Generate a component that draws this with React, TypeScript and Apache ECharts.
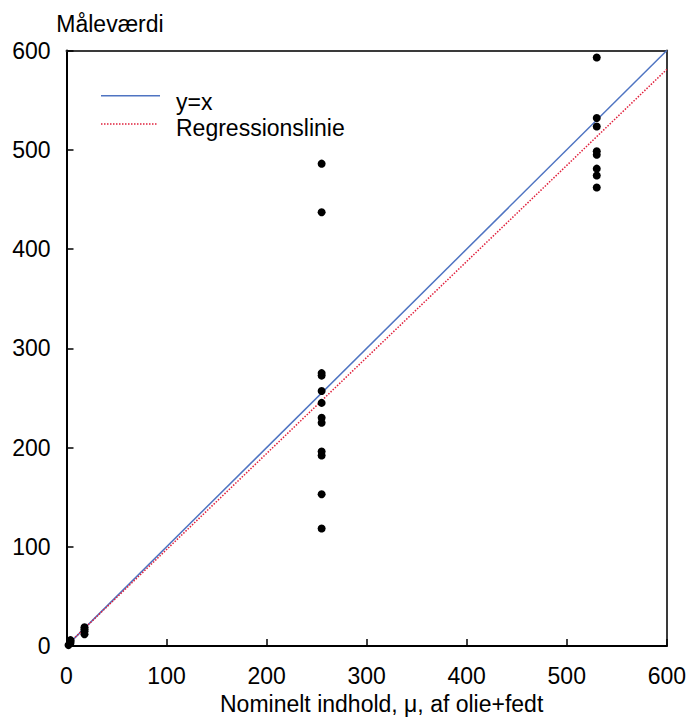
import React, { useEffect, useRef } from "react";
import * as echarts from "echarts";

// Data
const nominalLevels = [2, 4, 18, 255, 530];
const measuredAt2 = [1];
const measuredAt4 = [3, 5, 6];
const measuredAt18 = [19, 17, 15, 12];
const measuredAt255 = [486, 437, 275, 272.5, 257, 245, 230, 225, 196, 192, 153, 118.5];
const measuredAt530 = [593, 532, 523.5, 498.5, 495, 481, 474, 462];
const measuredGroups = [measuredAt2, measuredAt4, measuredAt18, measuredAt255, measuredAt530];

const identityLine = [
  [0, 0],
  [600, 600],
];
const regressionLine = [
  [0, 0.5],
  [600, 581],
];

const axisMin = 0;
const axisMax = 600;
const axisInterval = 100;

const xAxisTitle = "Nominelt indhold, μ, af olie+fedt";
const yAxisTitle = "Måleværdi";
const legendLabels = ["y=x", "Regressionslinie"];

const FONT = "'Liberation Sans', Arial, sans-serif";
const FS = 23;
const BLUE = "#4f74c2";
const RED = "#e0203c";

export default function App() {
  const ref = useRef<HTMLDivElement>(null);

  useEffect(() => {
    if (!ref.current) return;
    const chart = echarts.init(ref.current, null, { renderer: "svg" });

    const points: number[][] = [];
    nominalLevels.forEach((x, i) => {
      measuredGroups[i].forEach((y) => points.push([x, y]));
    });

    const frameAxis = {
      type: "value" as const,
      min: axisMin,
      max: axisMax,
      interval: axisInterval,
      axisLine: { show: true, onZero: false, lineStyle: { color: "#3a3a3a", width: 2 } },
      axisTick: { show: false },
      axisLabel: { show: false },
      splitLine: { show: false },
    };

    chart.setOption({
      animation: false,
      backgroundColor: "#ffffff",
      textStyle: { fontFamily: FONT },
      grid: { left: 66.5, top: 50.5, right: 20, bottom: 67, containLabel: false },
      xAxis: [
        {
          type: "value",
          position: "bottom",
          min: axisMin,
          max: axisMax,
          interval: axisInterval,
          name: xAxisTitle,
          nameLocation: "middle",
          nameGap: 39,
          nameTextStyle: { fontSize: FS, color: "#000", fontFamily: FONT, padding: [0, 0, 0, 30] },
          axisLine: { show: true, onZero: false, lineStyle: { color: "#000", width: 2 } },
          axisTick: { show: true, inside: true, length: 7, lineStyle: { color: "#000", width: 1.5 } },
          axisLabel: { fontSize: FS, color: "#000", fontFamily: FONT, margin: 18 },
          splitLine: { show: false },
        },
        { ...frameAxis, position: "top" },
      ],
      yAxis: [
        {
          type: "value",
          position: "left",
          min: axisMin,
          max: axisMax,
          interval: axisInterval,
          name: yAxisTitle,
          nameLocation: "end",
          nameGap: 15,
          nameTextStyle: { fontSize: FS, color: "#000", fontFamily: FONT, align: "center", padding: [0, 0, 0, 87] },
          axisLine: { show: true, onZero: false, lineStyle: { color: "#000", width: 2 } },
          axisTick: { show: true, inside: true, length: 7, lineStyle: { color: "#000", width: 1.5 } },
          axisLabel: { fontSize: FS, color: "#000", fontFamily: FONT, margin: 16, padding: [6, 0, 0, 0] },
          splitLine: { show: false },
        },
        { ...frameAxis, position: "right" },
      ],
      series: [
        {
          name: "y=x",
          type: "line",
          data: identityLine,
          showSymbol: false,
          symbol: "none",
          lineStyle: { color: BLUE, width: 1.5 },
          z: 2,
        },
        {
          name: "Regressionslinie",
          type: "line",
          data: regressionLine,
          showSymbol: false,
          symbol: "none",
          lineStyle: { color: RED, width: 1.5, type: [1.5, 1.5] },
          z: 2,
        },
        {
          name: "Måleværdi",
          type: "scatter",
          data: points,
          symbol: "circle",
          symbolSize: 8,
          itemStyle: { color: "#000", opacity: 1 },
          z: 3,
        },
      ],
      graphic: [
        {
          type: "line",
          shape: { x1: 101, y1: 95.7, x2: 160, y2: 95.7 },
          style: { stroke: BLUE, lineWidth: 1.5 },
        },
        {
          type: "line",
          shape: { x1: 101, y1: 124, x2: 158, y2: 124 },
          style: { stroke: RED, lineWidth: 1.5, lineDash: [1.5, 1.5] },
        },
        {
          type: "text",
          x: 176,
          y: 101.6,
          style: { text: legendLabels[0], fontSize: FS, fill: "#000", fontFamily: FONT, verticalAlign: "middle", align: "left" },
        },
        {
          type: "text",
          x: 176,
          y: 128.3,
          style: { text: legendLabels[1], fontSize: FS, fill: "#000", fontFamily: FONT, verticalAlign: "middle", align: "left" },
        },
      ],
    });

    return () => chart.dispose();
  }, []);

  return (
    <div
      ref={ref}
      style={{ position: "fixed", left: 0, top: 0, width: 689, height: 720, background: "#fff" }}
    />
  );
}
